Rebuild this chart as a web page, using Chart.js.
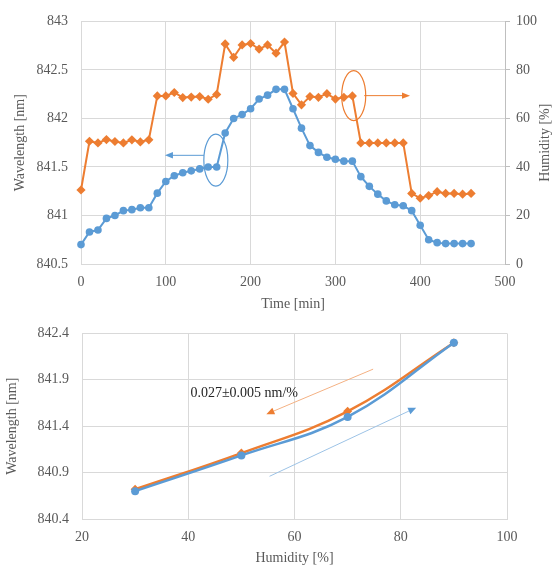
<!DOCTYPE html>
<html><head><meta charset="utf-8">
<script src="https://cdn.jsdelivr.net/npm/chart.js@4/dist/chart.umd.min.js"></script>
<style>
html,body{margin:0;padding:0;background:#fff;}
#wrap{position:relative;width:553px;height:568px;background:#fff;}
#c1{position:absolute;left:0;top:0;width:553px;height:312px;}
#c2{position:absolute;left:0;top:312px;width:553px;height:256px;}
</style></head><body>
<div id="wrap"><canvas id="c1" width="553" height="312"></canvas><canvas id="c2" width="553" height="256"></canvas></div>
<script>
// ---------- DATA (top: time series) ----------
const times = [0,10,20,30,40,50,60,70,80,90,100,110,120,130,140,150,160,170,180,190,200,210,220,230,240,250,260,270,280,290,300,310,320,330,340,350,360,370,380,390,400,410,420,430,440,450,460];
const wavelength = [840.70,840.83,840.85,840.97,841.00,841.05,841.06,841.08,841.08,841.23,841.35,841.41,841.44,841.46,841.48,841.50,841.50,841.85,842.00,842.04,842.10,842.20,842.24,842.30,842.30,842.10,841.90,841.72,841.65,841.60,841.58,841.56,841.56,841.40,841.30,841.22,841.15,841.11,841.10,841.05,840.90,840.75,840.72,840.71,840.71,840.71,840.71];
const humidity = [30.5,50.6,49.9,51.3,50.5,49.9,51.2,50.3,51.2,69.3,69.3,70.7,68.6,68.8,69.0,67.9,69.9,90.7,85.2,90.3,90.9,88.6,90.3,86.9,91.5,70.3,65.6,69.0,68.7,70.2,68.0,68.7,69.3,49.9,49.9,49.9,49.9,49.9,49.9,29.1,27.1,28.2,29.8,29.1,29.1,28.8,29.1];
const timeTicks = [0,100,200,300,400,500];
const wlTicksTop = [840.5,841,841.5,842,842.5,843];
const wlTickLabelsTop = ['840.5','841','841.5','842','842.5','843'];
const humTicks = [0,20,40,60,80,100];

// ---------- DATA (bottom: wavelength vs humidity) ----------
const humLevels = [30,50,70,90];
const wlIncreasing = [840.70,841.085,841.50,842.30];
const wlDecreasing = [840.72,841.11,841.56,842.30];
const humTicksBottom = [20,40,60,80,100];
const wlTicksBottom = [840.4,840.9,841.4,841.9,842.4];
const wlTickLabelsBottom = ['840.4','840.9','841.4','841.9','842.4'];
const slopeText = '0.027\u00b10.005 nm/%';

const BLUE = '#5B9BD5', ORANGE = '#ED7D31';
const GRID = '#d9d9d9', TXT = '#595959';
const FONT = {family:'"Liberation Serif","Times New Roman",serif', size:14};

function setTicks(arr){ return s => { s.ticks = arr.map(v => ({value:v})); }; }

function drawText(ctx, text, x, y, rot, color, font){
  ctx.save();
  ctx.translate(x,y); ctx.rotate(rot||0);
  ctx.font = font || ('14px ' + FONT.family);
  ctx.fillStyle = color || TXT;
  ctx.textAlign = 'center'; ctx.textBaseline = 'middle';
  ctx.fillText(text,0,0);
  ctx.restore();
}
function drawArrow(ctx, x1,y1,x2,y2, lineColor, headColor, lw, hl, hw){
  ctx.save();
  const a = Math.atan2(y2-y1, x2-x1);
  ctx.strokeStyle = lineColor; ctx.lineWidth = lw;
  ctx.beginPath(); ctx.moveTo(x1,y1);
  ctx.lineTo(x2 - Math.cos(a)*hl*0.6, y2 - Math.sin(a)*hl*0.6); ctx.stroke();
  ctx.fillStyle = headColor;
  ctx.beginPath();
  ctx.moveTo(x2,y2);
  ctx.lineTo(x2 - Math.cos(a)*hl + Math.sin(a)*hw, y2 - Math.sin(a)*hl - Math.cos(a)*hw);
  ctx.lineTo(x2 - Math.cos(a)*hl - Math.sin(a)*hw, y2 - Math.sin(a)*hl + Math.cos(a)*hw);
  ctx.closePath(); ctx.fill();
  ctx.restore();
}

// annotation anchors (data coordinates)
const topNotes = {
  blueEllipse:{x:159, y:841.57},
  blueArrow:{x1:145, x2:99, y:841.62},
  orangeEllipse:{x:321.6, y:69.4},
  orangeArrow:{x1:334, x2:388, y:69.4}
};

const topPlugin = {
  id:'topDecor',
  afterDatasetsDraw(chart){
    const ctx = chart.ctx, xs = chart.scales.x, ca = chart.chartArea;
    const n = topNotes;
    ctx.save();
    ctx.lineWidth = 1.2; ctx.strokeStyle = BLUE;
    ctx.beginPath();
    ctx.ellipse(xs.getPixelForValue(n.blueEllipse.x), chart.scales.y.getPixelForValue(n.blueEllipse.y), 12, 26, 0, 0, Math.PI*2);
    ctx.stroke();
    ctx.strokeStyle = ORANGE;
    ctx.beginPath();
    ctx.ellipse(xs.getPixelForValue(n.orangeEllipse.x), chart.scales.y2.getPixelForValue(n.orangeEllipse.y), 12, 25, 0, 0, Math.PI*2);
    ctx.stroke();
    ctx.restore();
    const by = chart.scales.y.getPixelForValue(n.blueArrow.y);
    drawArrow(ctx, xs.getPixelForValue(n.blueArrow.x1), by, xs.getPixelForValue(n.blueArrow.x2), by, BLUE, BLUE, 1, 8, 3.2);
    const oy = chart.scales.y2.getPixelForValue(n.orangeArrow.y);
    drawArrow(ctx, xs.getPixelForValue(n.orangeArrow.x1), oy, xs.getPixelForValue(n.orangeArrow.x2), oy, ORANGE, ORANGE, 1, 8, 3.2);
    const midY = (ca.top+ca.bottom)/2;
    drawText(ctx, 'Wavelength [nm]', 20, midY, -Math.PI/2);
    drawText(ctx, 'Humidity [%]', 545, midY, -Math.PI/2);
    drawText(ctx, 'Time [min]', (ca.left+ca.right)/2, 304, 0);
  }
};

const botNotes = {
  text:{x:40.4, y:841.75},
  orangeArrow:{x1:74.8, y1:842.015, x2:54.7, y2:841.53},
  blueArrow:{x1:55.3, y1:840.86, x2:82.9, y2:841.60}
};
const botPlugin = {
  id:'botDecor',
  afterDatasetsDraw(chart){
    const ctx = chart.ctx, xs = chart.scales.x, ys = chart.scales.y, ca = chart.chartArea;
    const n = botNotes;
    drawArrow(ctx, xs.getPixelForValue(n.orangeArrow.x1), ys.getPixelForValue(n.orangeArrow.y1),
      xs.getPixelForValue(n.orangeArrow.x2), ys.getPixelForValue(n.orangeArrow.y2), '#F4B183', ORANGE, 1, 8, 3.5);
    drawArrow(ctx, xs.getPixelForValue(n.blueArrow.x1), ys.getPixelForValue(n.blueArrow.y1),
      xs.getPixelForValue(n.blueArrow.x2), ys.getPixelForValue(n.blueArrow.y2), '#9DC3E6', BLUE, 1, 8, 3.5);
    ctx.save();
    ctx.font = '14px ' + FONT.family; ctx.fillStyle = '#262626';
    ctx.textAlign = 'left'; ctx.textBaseline = 'middle';
    ctx.fillText(slopeText, xs.getPixelForValue(n.text.x), ys.getPixelForValue(n.text.y));
    ctx.restore();
    const midY = (ca.top+ca.bottom)/2;
    drawText(ctx, 'Wavelength [nm]', 12, midY, -Math.PI/2);
    drawText(ctx, 'Humidity [%]', (ca.left+ca.right)/2, 246, 0);
  }
};

Chart.defaults.font = FONT;
Chart.defaults.color = TXT;

new Chart(document.getElementById('c1'), {
  type:'line',
  data:{ datasets:[
    { label:'Wavelength', data: times.map((t,i)=>({x:t, y:wavelength[i]})), yAxisID:'y', clip:false,
      borderColor:BLUE, backgroundColor:BLUE, borderWidth:2, pointStyle:'circle', pointRadius:3.8, pointBorderWidth:0, tension:0 },
    { label:'Humidity', data: times.map((t,i)=>({x:t, y:humidity[i]})), yAxisID:'y2', clip:false,
      borderColor:ORANGE, backgroundColor:ORANGE, borderWidth:2, pointStyle:'rectRot', pointRadius:4.6, pointBorderWidth:0, tension:0 }
  ]},
  options:{
    responsive:false, devicePixelRatio:1, animation:false,
    layout:{padding:{top:19, left:0, right:0, bottom:0}},
    plugins:{legend:{display:false}, tooltip:{enabled:false}},
    scales:{
      x:{ type:'linear', min:0, max:500, afterBuildTicks:setTicks(timeTicks),
          afterFit:s=>{s.height=48;},
          grid:{color:GRID, drawTicks:false}, border:{color:GRID},
          ticks:{padding:10, callback:v=>String(v)} },
      y:{ type:'linear', position:'left', min:840.5, max:843, afterBuildTicks:setTicks(wlTicksTop),
          afterFit:s=>{s.width=81;},
          grid:{color:GRID, drawTicks:false}, border:{color:GRID},
          ticks:{padding:13, callback:(v,i)=>wlTickLabelsTop[i]} },
      y2:{ type:'linear', position:'right', min:0, max:100, afterBuildTicks:setTicks(humTicks),
          afterFit:s=>{s.width=48;},
          grid:{drawOnChartArea:false, drawTicks:true, tickLength:5, color:'#bfbfbf'}, border:{color:'#bfbfbf'},
          ticks:{padding:6, callback:v=>String(v)} }
    }
  },
  plugins:[topPlugin]
});

new Chart(document.getElementById('c2'), {
  type:'line',
  data:{ datasets:[
    { label:'Rising', data: humLevels.map((h,i)=>({x:h, y:wlIncreasing[i]})), order:0, clip:false,
      borderColor:BLUE, backgroundColor:BLUE, borderWidth:2.5, pointStyle:'circle', pointRadius:4, pointBorderWidth:0,
      tension:0.4 },
    { label:'Falling', data: humLevels.map((h,i)=>({x:h, y:wlDecreasing[i]})), order:1, clip:false,
      borderColor:ORANGE, backgroundColor:ORANGE, borderWidth:2.5, pointStyle:'rectRot', pointRadius:4.5, pointBorderWidth:0,
      tension:0.4 }
  ]},
  options:{
    responsive:false, devicePixelRatio:1, animation:false,
    layout:{padding:{top:8, left:0, right:46, bottom:0}},
    plugins:{legend:{display:false}, tooltip:{enabled:false}},
    scales:{
      x:{ type:'linear', min:20, max:100, afterBuildTicks:setTicks(humTicksBottom),
          afterFit:s=>{s.height=49;},
          grid:{color:GRID, drawTicks:false}, border:{color:GRID},
          ticks:{padding:10, callback:v=>String(v)} },
      y:{ type:'linear', position:'left', min:840.4, max:842.4, afterBuildTicks:setTicks(wlTicksBottom),
          afterFit:s=>{s.width=82;},
          grid:{color:GRID, drawTicks:false}, border:{color:GRID},
          ticks:{padding:13, callback:(v,i)=>wlTickLabelsBottom[i]} }
    }
  },
  plugins:[botPlugin]
});
</script>
</body></html>
